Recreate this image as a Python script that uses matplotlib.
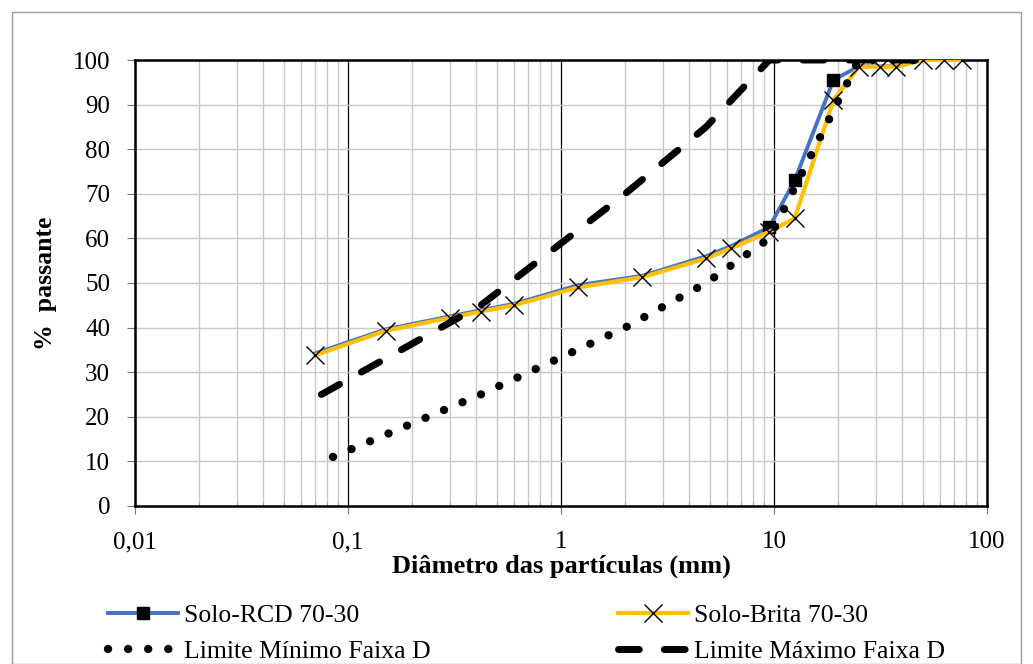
import matplotlib.pyplot as plt
import matplotlib.patches as patches
from matplotlib.ticker import LogLocator, NullFormatter

plt.rcParams['font.family'] = ['Liberation Serif', 'DejaVu Serif']

# peneiras (mm)
sieves = [0.07, 0.15, 0.3, 0.42, 0.6, 1.2, 2.4, 4.8, 6.3, 9.5, 12.5, 19, 25, 31.5, 37.5, 50, 63, 76]
rcd = [34.2, 39.6, 42.5, 43.9, 45.3, 49.5, 51.6, 56.0, 58.3, 62.5, 73.0, 95.5, 98.6, 98.6, 98.6, 100, 100, 100]
brita = [33.8, 39.3, 42.2, 43.6, 45.0, 49.0, 51.3, 55.5, 57.8, 61.5, 64.5, 91.0, 98.5, 98.5, 98.5, 100, 100, 100]

lim_x = [0.085, 0.42, 2.0, 4.8, 9.5, 25, 50]
lim_min = [11, 25, 40, 50, 60, 100, 100]
lim_x_max = [0.075, 0.42, 2.0, 4.8, 9.5, 25, 50]
lim_max = [25, 45, 70, 85, 100, 100, 100]

fig = plt.figure(figsize=(10.33, 6.64), dpi=100)
ax = fig.add_axes([0.1307, 0.238, 0.8248, 0.6716])

l1, = ax.plot(sieves, rcd, color='#4472C4', lw=2.8, marker='s', ms=9, mfc='black', mec='black',
              markevery=[9, 10, 11], label='Solo-RCD 70-30', zorder=3)
l2, = ax.plot(sieves, brita, color='#FFC000', lw=3, marker='x', ms=13, mec='black', mew=1.0,
              label='Solo-Brita 70-30', zorder=4)
l3, = ax.plot(lim_x, lim_min, color='black', lw=6, ls=(0, (0.01, 2.4)), dash_capstyle='round',
              label='Limite Mínimo Faixa D', zorder=5)
l4, = ax.plot(lim_x_max, lim_max, color='black', lw=5, ls=(0, (3, 3.6)), dash_capstyle='round',
              label='Limite Máximo Faixa D', zorder=5)

ax.set_xscale('log')
ax.set_xlim(0.01, 100)
ax.set_ylim(0, 100)
ax.set_yticks(range(0, 101, 10))
ax.set_xticks([0.01, 0.1, 1, 10, 100])
ax.set_xticklabels(['0,01', '0,1', '1', '10', '100'])
ax.xaxis.set_minor_locator(LogLocator(base=10, subs=range(2, 10)))
ax.xaxis.set_minor_formatter(NullFormatter())

ax.grid(True, which='minor', axis='x', color='#c8c8c8', lw=1)
ax.grid(True, which='major', axis='y', color='#c8c8c8', lw=1)
ax.grid(True, which='major', axis='x', color='black', lw=0.9)
ax.set_axisbelow(True)

for s in ax.spines.values():
    s.set_linewidth(1.8)
    s.set_color('black')

ax.tick_params(axis='both', which='major', labelsize=18, length=6, color='#777777')
ax.tick_params(axis='y', pad=12)
ax.tick_params(axis='x', which='major', pad=12)
ax.tick_params(axis='x', which='minor', length=3, direction='in', color='#999999')

ax.set_xlabel('Diâmetro das partículas (mm)', fontsize=19, fontweight='bold', labelpad=1)
ax.set_ylabel('%  passante', fontsize=18.5, fontweight='bold', labelpad=11)

leg = fig.legend([l1, l3, l2, l4], [l.get_label() for l in (l1, l3, l2, l4)],
                 loc='upper left', bbox_to_anchor=(0.095, 0.106), ncol=2, frameon=False,
                 fontsize=18.5, handlelength=2.7, columnspacing=7.3, handletextpad=0.25,
                 labelspacing=0.5, borderaxespad=0)

fig.patches.append(patches.Rectangle((0.012, 0.0), 0.976, 0.982, transform=fig.transFigure,
                                     fill=False, edgecolor='#9a9a9a', lw=1))

fig.savefig('out.png', dpi=100)
plt.close()
